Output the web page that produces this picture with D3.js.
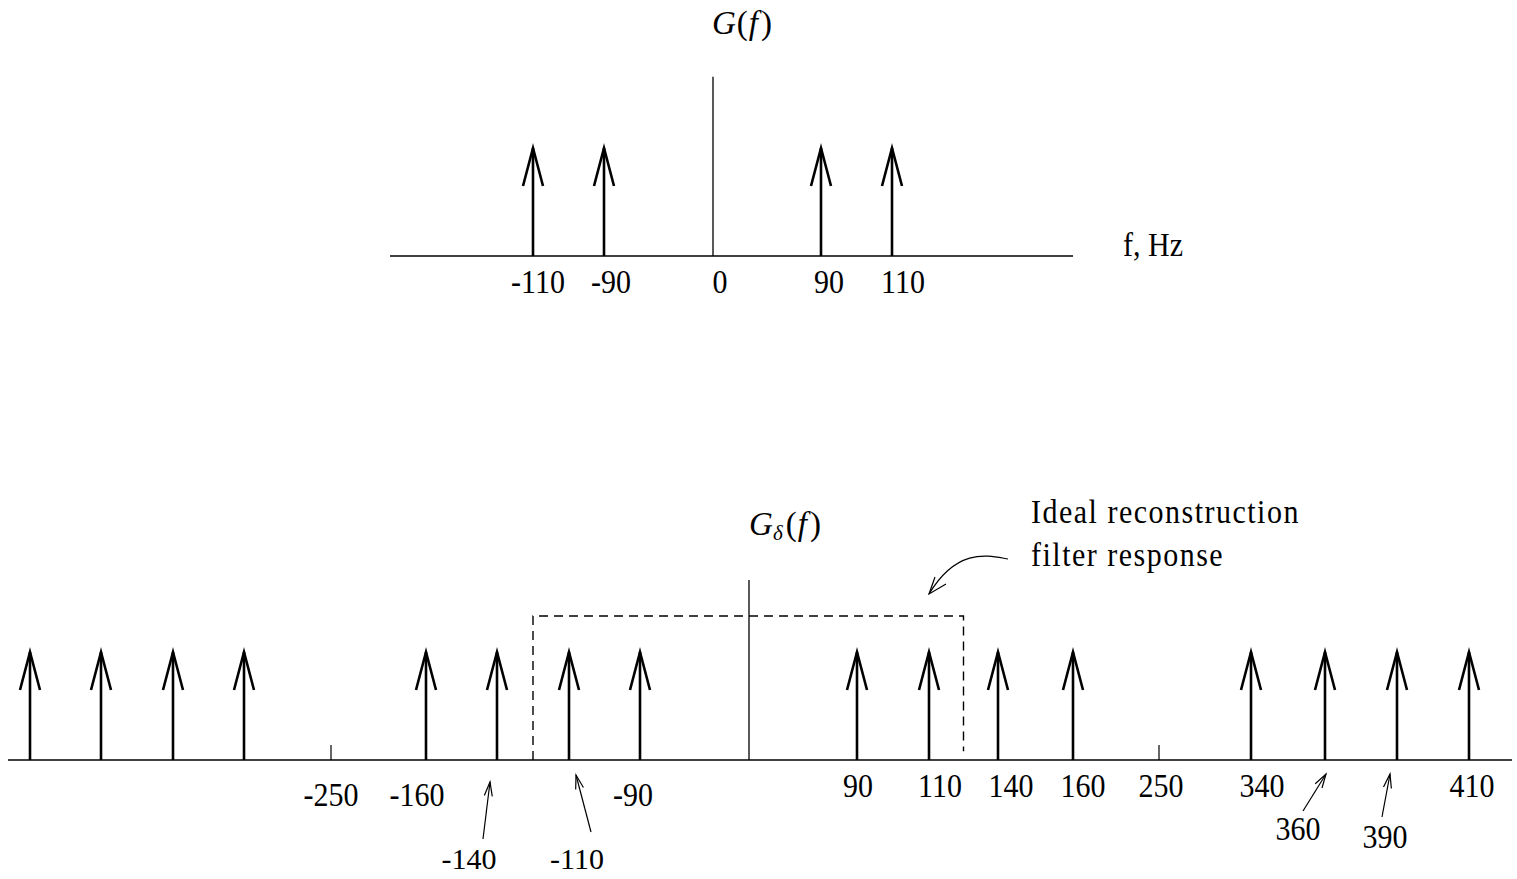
<!DOCTYPE html>
<html>
<head>
<meta charset="utf-8">
<script src="https://cdn.jsdelivr.net/npm/d3@7"></script>
<style>
  html, body { margin: 0; padding: 0; background: #fff; }
  svg { display: block; }
  text { font-family: "Liberation Serif", "Times New Roman", serif; fill: #000; }
</style>
</head>
<body>
<svg id="chart" width="1517" height="879"></svg>
<script>
// ---------------- DATA ----------------
// Top spectrum G(f)
const topImpulses = [-110, -90, 90, 110];
const topTickLabels = ["-110", "-90", "0", "90", "110"];
const topTickValues = [-110, -90, 0, 90, 110];
const topImpulseAmp = 1;

// Bottom spectrum G_delta(f)
const bottomImpulses = [-410, -390, -360, -340, -160, -140, -110, -90, 90, 110, 140, 160, 340, 360, 390, 410];
const bottomImpulseAmp = 1;
const bottomMinorTicks = [-250, 250];
const bottomTickValues = [-250, -160, -90, 90, 110, 140, 160, 250, 340, 410];
const bottomTickLabels = ["-250", "-160", "-90", "90", "110", "140", "160", "250", "340", "410"];
const calloutValues = [-140, -110, 360, 390];
const calloutLabels = ["-140", "-110", "360", "390"];
const filterBand = [-125, 125];
const filterGain = 1.333;

// ---------------- LAYOUT ----------------
const svg = d3.select("#chart");
const FS = 30;
const STRETCH = 1.1;

// schematic (piecewise linear) frequency scales
const xTop = d3.scaleLinear()
  .domain([-110, -90, 0, 90, 110])
  .range([533, 604, 713, 821, 892]);
const yTop = d3.scaleLinear().domain([0, 1]).range([256, 148]);

const xBot = d3.scaleLinear()
  .domain([-410, -390, -360, -340, -250, -160, -140, -110, -90, 0, 90, 110, 140, 160, 250, 340, 360, 390, 410])
  .range([30, 101, 173, 244, 331, 426, 497, 569, 640, 749, 857, 929, 998, 1073, 1159, 1251, 1325, 1397, 1469]);
const yBot = d3.scaleLinear().domain([0, 1]).range([760, 652]);

// label nudges (layout only)
const topLabelDx = [5, 7, 7, 8, 11];
const botLabelDx = [0, -9, -7, 1, 11, 13, 10, 2, 11, 3];
const botLabelBase = [806, 806, 806, 797, 797, 797, 797, 797, 797, 797];
const calloutLayout = [
  { tipDx: -7, tipY: 782, tailDx: -14, tailY: 839, labDx: -28, labY: 869, st: 1 },
  { tipDx: 7, tipY: 775, tailDx: 22, tailY: 832, labDx: 8, labY: 869, st: 1 },
  { tipDx: 1, tipY: 774, tailDx: -22, tailY: 811, labDx: -27, labY: 840, st: STRETCH },
  { tipDx: -7, tipY: 774, tailDx: -15, tailY: 817, labDx: -12, labY: 848, st: STRETCH }
];

function addText(g, x, y, size, anchor, stretch) {
  const s = stretch === undefined ? STRETCH : stretch;
  return g.append("text")
    .attr("transform", `translate(${x},${y}) scale(1,${s})`)
    .attr("text-anchor", anchor || "start")
    .attr("font-size", size);
}

function impulse(g, x, y0, y1) {
  g.append("line").attr("x1", x).attr("x2", x).attr("y1", y0).attr("y2", y1)
    .attr("stroke", "#000").attr("stroke-width", 2.6);
  g.append("path")
    .attr("d", `M${x - 10},${y1 + 38} L${x},${y1} L${x + 10},${y1 + 38}`)
    .attr("fill", "none").attr("stroke", "#000").attr("stroke-width", 2.6)
    .attr("stroke-linejoin", "miter");
}

function thinArrow(g, x1, y1, x2, y2, len, spread) {
  g.append("line").attr("x1", x1).attr("y1", y1).attr("x2", x2).attr("y2", y2)
    .attr("stroke", "#000").attr("stroke-width", 1.2);
  const a = Math.atan2(y2 - y1, x2 - x1);
  const p1 = [x2 - len * Math.cos(a) + spread * Math.sin(a), y2 - len * Math.sin(a) - spread * Math.cos(a)];
  const p2 = [x2 - len * Math.cos(a) - spread * Math.sin(a), y2 - len * Math.sin(a) + spread * Math.cos(a)];
  g.append("path").attr("d", `M${p1[0]},${p1[1]} L${x2},${y2} L${p2[0]},${p2[1]}`)
    .attr("fill", "none").attr("stroke", "#000").attr("stroke-width", 1.2);
}

// ---------------- TOP CHART ----------------
const gt = svg.append("g");
gt.append("line").attr("x1", 390).attr("x2", 1073).attr("y1", yTop(0)).attr("y2", yTop(0))
  .attr("stroke", "#000").attr("stroke-width", 1.5);
gt.append("line").attr("x1", xTop(0)).attr("x2", xTop(0)).attr("y1", yTop(0)).attr("y2", yTop(1.66))
  .attr("stroke", "#000").attr("stroke-width", 1.3);
topImpulses.forEach(f => impulse(gt, xTop(f), yTop(0), yTop(topImpulseAmp)));

topTickValues.forEach((d, i) => {
  addText(gt, xTop(d) + topLabelDx[i], 293, FS, "middle").text(topTickLabels[i]);
});

const gTitle = addText(gt, 742, 34, 33, "middle", 1);
gTitle.append("tspan").attr("font-style", "italic").text("G");
gTitle.append("tspan").attr("dx", 1).text("(");
gTitle.append("tspan").attr("font-style", "italic").attr("dx", 1).text("f");
gTitle.append("tspan").attr("dx", 3).text(")");

addText(gt, 1123, 256, FS).text("f, Hz");

// ---------------- BOTTOM CHART ----------------
const gb = svg.append("g");
gb.append("line").attr("x1", 8).attr("x2", 1512).attr("y1", yBot(0)).attr("y2", yBot(0))
  .attr("stroke", "#000").attr("stroke-width", 1.5);
gb.append("line").attr("x1", xBot(0)).attr("x2", xBot(0)).attr("y1", yBot(0)).attr("y2", yBot(1.667))
  .attr("stroke", "#000").attr("stroke-width", 1.3);

bottomMinorTicks.forEach(f => {
  gb.append("line").attr("x1", xBot(f)).attr("x2", xBot(f)).attr("y1", yBot(0)).attr("y2", yBot(0) - 15)
    .attr("stroke", "#000").attr("stroke-width", 1.2);
});

// filter response (dashed)
gb.append("path")
  .attr("d", `M${xBot(filterBand[0])},${yBot(0)} V${yBot(filterGain)} H${xBot(filterBand[1])} V${yBot(0.08)}`)
  .attr("fill", "none").attr("stroke", "#000").attr("stroke-width", 1.4)
  .attr("stroke-dasharray", "9,6");

bottomImpulses.forEach(f => impulse(gb, xBot(f), yBot(0), yBot(bottomImpulseAmp)));

bottomTickValues.forEach((d, i) => {
  addText(gb, xBot(d) + botLabelDx[i], botLabelBase[i], FS, "middle").text(bottomTickLabels[i]);
});

calloutValues.forEach((f, i) => {
  const L = calloutLayout[i];
  const x = xBot(f);
  thinArrow(gb, x + L.tailDx, L.tailY, x + L.tipDx, L.tipY, 14, 4);
  addText(gb, x + L.labDx, L.labY, FS, "middle", L.st).text(calloutLabels[i]);
});

const gdTitle = addText(gb, 785, 535, 33, "middle", 1);
gdTitle.append("tspan").attr("font-style", "italic").text("G");
gdTitle.append("tspan").attr("font-style", "italic").attr("font-size", 21).attr("dy", 5).text("δ");
gdTitle.append("tspan").attr("dy", -5).attr("dx", 3).text("(");
gdTitle.append("tspan").attr("font-style", "italic").attr("dx", 1).text("f");
gdTitle.append("tspan").attr("dx", 3).text(")");

addText(gb, 1031, 523, FS).attr("letter-spacing", 1.5).text("Ideal reconstruction");
addText(gb, 1031, 566, FS).attr("letter-spacing", 1.5).text("filter response");

// curved pointer to the filter
gb.append("path").attr("d", "M1008,559 C990,556 958,546 929,594")
  .attr("fill", "none").attr("stroke", "#000").attr("stroke-width", 1.2);
gb.append("path").attr("d", "M935,577 L929,594 L946,584")
  .attr("fill", "none").attr("stroke", "#000").attr("stroke-width", 1.2);
</script>
</body>
</html>
